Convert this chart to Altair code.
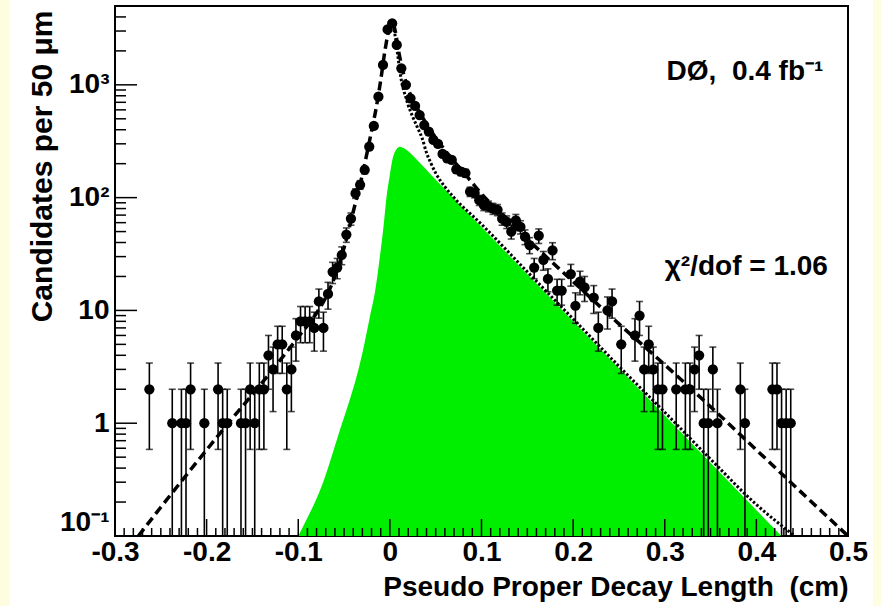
import math
import altair as alt
import pandas as pd

# ---------------- data ----------------
bin_x = [-0.2625, -0.2375, -0.2275, -0.2225, -0.2175, -0.2025, -0.1875, -0.1825, -0.1775,
         -0.1625, -0.1575, -0.1525, -0.1475, -0.1425, -0.1375, -0.1325, -0.1275, -0.1225,
         -0.1175, -0.1125, -0.1075, -0.1025, -0.0975, -0.0925, -0.0875, -0.0825, -0.0775,
         -0.0725, -0.0675, -0.0625, -0.0575, -0.0525, -0.0475, -0.0425, -0.0375, -0.0325,
         -0.0275, -0.0225, -0.0175, -0.0125, -0.0075, -0.0025,
         0.0025, 0.0075, 0.0125, 0.0175, 0.0225, 0.0275, 0.0325, 0.0375, 0.0425, 0.0475,
         0.0525, 0.0575, 0.0625, 0.0675, 0.0725, 0.0775, 0.0825, 0.0875, 0.0925, 0.0975,
         0.1025, 0.1075, 0.1125, 0.1175, 0.1225, 0.1275, 0.1325, 0.1375, 0.1425, 0.1475,
         0.1525, 0.1575, 0.1625, 0.1675, 0.1725, 0.1775, 0.1825, 0.1875, 0.1975, 0.2025,
         0.2075, 0.2125, 0.2225, 0.2275, 0.2375, 0.2425, 0.2525, 0.2675, 0.2725, 0.2775,
         0.2825, 0.2875, 0.2925, 0.2975, 0.3125, 0.3225, 0.3275, 0.3325, 0.3375, 0.3425,
         0.3475, 0.3525, 0.3575, 0.3825, 0.3875, 0.4175, 0.4225, 0.4275, 0.4325, 0.4375]
counts = [2, 1, 1, 1, 2, 1, 2, 1, 1,
          1, 1, 2, 1, 2, 2, 4, 3, 5,
          5, 2, 3, 6, 8, 8, 8, 7, 12,
          7, 14, 22, 24, 31, 47, 65, 109, 130,
          176, 283, 432, 785, 1500, 3100,
          3500, 2260, 1400, 1000, 760, 650, 540, 440, 385, 325,
          300, 244, 223, 216, 178, 170, 165, 113, 110, 95,
          86, 84, 80, 78, 65, 61, 50, 63, 55, 45,
          38, 24, 46, 28, 19, 34, 15, 15, 21, 11,
          18, 16, 13, 7, 10, 12, 5, 6, 9, 3,
          5, 3, 2, 2, 2, 2, 2, 3, 4, 1,
          1, 3, 1, 2, 1, 2, 2, 1, 1, 1]

# total fit (dashed)
fit_x = [-0.2745, -0.25, -0.2, -0.1764, -0.15, -0.125, -0.1, -0.08, -0.07, -0.06, -0.05,
         -0.04, -0.03, -0.02, -0.015, -0.01, -0.005, 0.0, 0.0025, 0.005, 0.01, 0.015,
         0.02, 0.03, 0.04, 0.05, 0.06, 0.07, 0.08, 0.09, 0.1, 0.125, 0.15, 0.2, 0.25,
         0.3, 0.35, 0.4, 0.45, 0.5]
fit_y = [0.1, 0.18, 0.58, 1.0, 1.8, 3.2, 5.8, 9.5, 13, 20, 36,
         75, 160, 390, 620, 1100, 2100, 3300, 3500, 3200, 1900, 1250,
         920, 620, 450, 340, 265, 210, 170, 135, 108, 68, 43, 18, 7.6,
         3.3, 1.4, 0.58, 0.24, 0.1]

# component (dotted)
dot_x = [0.0, 0.0025, 0.005, 0.0075, 0.01, 0.0125, 0.015, 0.0175, 0.02, 0.025, 0.03,
         0.035, 0.04, 0.045, 0.05, 0.06, 0.07, 0.1, 0.15, 0.2, 0.25, 0.3, 0.35, 0.4, 0.442]
dot_y = [3300, 3450, 2950, 2150, 1500, 1100, 900, 770, 660, 520, 420,
         340, 250, 200, 165, 125, 100, 58, 22, 8.4, 3.2, 1.25, 0.48, 0.19, 0.1]

# signal (green area)
sig_x = [-0.1, -0.09, -0.08, -0.0728, -0.0645, -0.0545, -0.045, -0.0364, -0.03, -0.0218,
         -0.016, -0.0109, -0.007, -0.0036, 0.0, 0.0019, 0.005, 0.0109, 0.016, 0.02, 0.03,
         0.0436, 0.1, 0.2, 0.3, 0.4273]
sig_y = [0.1, 0.145, 0.215, 0.3, 0.48, 0.87, 1.5, 2.58, 4.2, 8.8,
         15, 30, 55, 102, 160, 200, 250, 283, 272, 258, 215,
         164, 55, 8.0, 1.17, 0.1]

NB = "\u00a0"
ann_x = [0.302, 0.300]
ann_y = [1104, 20.6]
ann_t = ["DØ," + NB + NB + "0.4 fb⁻¹", "χ²/dof = 1.06"]

x_major = [-0.3, -0.2, -0.1, 0.0, 0.1, 0.2, 0.3, 0.4, 0.5]
y_major = [0.1, 1, 10, 100, 1000]

# ---------------- tables ----------------
pts = pd.DataFrame({"x": bin_x, "y": counts})
pts["hi"] = [c + math.sqrt(c) for c in counts]
pts["lo"] = [max(c - math.sqrt(c), 0.1) for c in counts]
caps_lo = pts[pts["lo"] > 0.1]

fit_df = pd.DataFrame({"x": fit_x, "y": fit_y})
dot_df = pd.DataFrame({"x": dot_x, "y": dot_y})
sig_df = pd.DataFrame({"x": sig_x, "y": sig_y, "base": [0.1] * len(sig_x)})
ann_df = pd.DataFrame({"x": ann_x, "y": ann_y, "t": ann_t})

x_minor = [round(-0.3 + 0.01 * i, 3) for i in range(81)]
x_minor = [v for v in x_minor if all(abs(v - m) > 1e-6 for m in x_major)]
y_minor = []
for d in range(-1, 4):
    for k in range(2, 10):
        v = k * 10 ** d
        if v <= 5000:
            y_minor.append(v)

W, H = 733, 530
FONT = "Liberation Sans"

xs = alt.Scale(domain=[-0.3, 0.5], nice=False, zero=False)
ys = alt.Scale(type="log", domain=[0.1, 5000], nice=False)

xaxis = alt.Axis(
    values=x_major, ticks=False, grid=False, domain=False,
    labelExpr="datum.value == 0 ? '0' : (datum.value < 0 ? '-' : '') + format(abs(datum.value), '.1f')",
    labelFont=FONT, labelFontSize=28, labelFontWeight="bold", labelColor="black",
    labelPadding=2, labelFlush=False, labelOverlap=False,
    title="Pseudo Proper Decay Length" + NB + NB + "(cm)", titleFont=FONT, titleFontSize=28,
    titleFontWeight="bold", titleColor="black", titleAnchor="end", titleAlign="right",
    titleX=W, titleY=59, titleBaseline="alphabetic",
)
yaxis = alt.Axis(
    values=y_major, ticks=False, grid=False, domain=False,
    labelExpr="datum.value < 0.5 ? '10⁻¹' : datum.value < 5 ? '1' : datum.value < 50 ? '10' : datum.value < 500 ? '10²' : '10³'",
    labelFont=FONT, labelFontSize=28, labelFontWeight="bold", labelColor="black",
    labelBaseline={"condition": {"test": "datum.value < 0.5", "value": "bottom"}, "value": "middle"},
    labelPadding=6, labelFlush=False, labelOverlap=False,
    title="Candidates per 50 μm", titleFont=FONT, titleFontSize=30, titleFontWeight="bold",
    titleColor="black", titleAngle=-90, titleAlign="right", titleBaseline="middle",
    titleX=-73, titleY=4,
)

X = lambda f="x": alt.X(f"{f}:Q", scale=xs, axis=xaxis)
Y = lambda f="y": alt.Y(f"{f}:Q", scale=ys, axis=yaxis)

# decorative pale strips at left/right edges of the picture
strip = alt.Chart(pd.DataFrame({"s": [0]})).mark_rect(color="#fffde0", clip=False).encode(
    x=alt.value(-115), x2=alt.value(-105), y=alt.value(-6), y2=alt.value(H + 70))
strip_r = alt.Chart(pd.DataFrame({"s": [0]})).mark_rect(color="#fffde0", clip=False).encode(
    x=alt.value(W + 25), x2=alt.value(W + 33), y=alt.value(-6), y2=alt.value(H + 70))

green = alt.Chart(sig_df).mark_area(color="#00ee00", opacity=1, interpolate="monotone", clip=True).encode(
    x=X(), y=Y(), y2="base:Q")
dotted = alt.Chart(dot_df).mark_line(color="black", strokeWidth=3, strokeDash=[2.5, 2],
                                     interpolate="monotone", clip=True).encode(x=X(), y=Y())
dashed = alt.Chart(fit_df).mark_line(color="black", strokeWidth=3.5, strokeDash=[9, 5],
                                     interpolate="monotone", clip=True).encode(x=X(), y=Y())

xt_major = alt.Chart(pd.DataFrame({"x": x_major})).mark_rule(color="black", strokeWidth=1.5).encode(
    x=X(), y=alt.value(H), y2=alt.value(H - 17))
xt_minor = alt.Chart(pd.DataFrame({"x": x_minor})).mark_rule(color="black", strokeWidth=1.5).encode(
    x=X(), y=alt.value(H), y2=alt.value(H - 8))
yt_major = alt.Chart(pd.DataFrame({"y": y_major})).mark_rule(color="black", strokeWidth=1.5).encode(
    y=Y(), x=alt.value(0), x2=alt.value(22))
yt_minor = alt.Chart(pd.DataFrame({"y": y_minor})).mark_rule(color="black", strokeWidth=1.5).encode(
    y=Y(), x=alt.value(0), x2=alt.value(11))

ebar = alt.Chart(pts).mark_rule(color="black", strokeWidth=1.6, clip=True).encode(
    x=X(), y=Y("lo"), y2="hi:Q")
cap_hi = alt.Chart(pts).mark_tick(color="black", orient="horizontal", size=7, thickness=1.6).encode(
    x=X(), y=Y("hi"))
cap_lo = alt.Chart(caps_lo).mark_tick(color="black", orient="horizontal", size=7, thickness=1.6).encode(
    x=X(), y=Y("lo"))
points = alt.Chart(pts).mark_circle(color="black", size=105, opacity=1).encode(x=X(), y=Y())

ann = alt.Chart(ann_df).mark_text(align="left", baseline="alphabetic", font=FONT, fontSize=28,
                                  fontWeight="bold", color="black").encode(x=X(), y=Y(), text="t:N")

chart = alt.layer(
    strip, strip_r, green, dotted, dashed, xt_minor, xt_major, yt_minor, yt_major,
    ebar, cap_hi, cap_lo, points, ann
).properties(
    width=W, height=H,
    autosize=alt.AutoSizeParams(type="none"),
    padding={"left": 115, "top": 6, "right": 33, "bottom": 70},
    background="white",
).configure_view(stroke="black", strokeWidth=2)

chart.save("out.html", embed_options={"renderer": "svg", "actions": False})
